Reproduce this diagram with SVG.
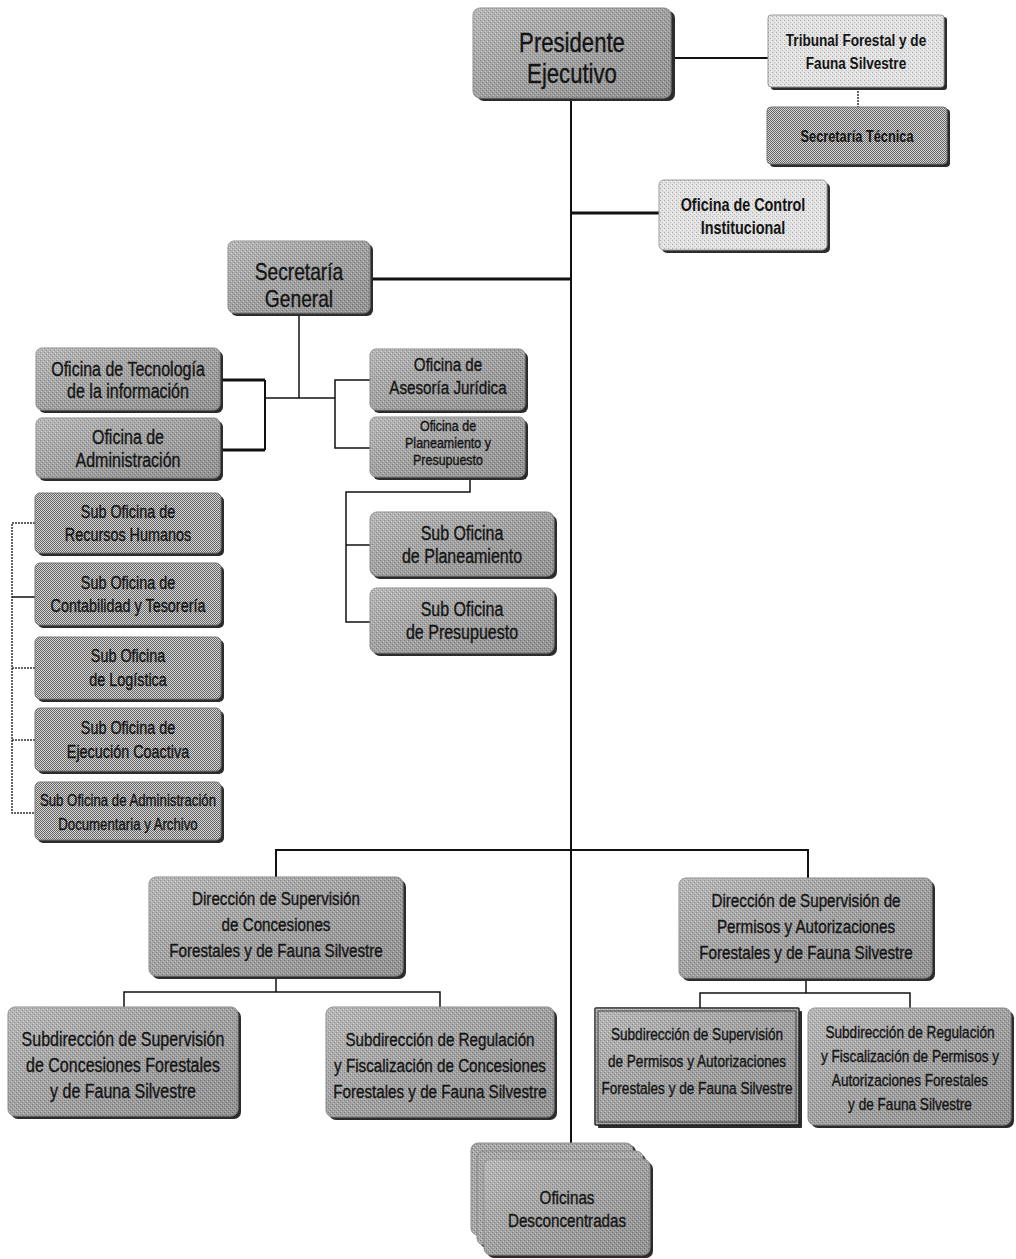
<svg xmlns="http://www.w3.org/2000/svg" width="1016" height="1259" viewBox="0 0 1016 1259">
<defs>
  <pattern id="pMid" width="4" height="4" patternUnits="userSpaceOnUse">
    <rect width="4" height="4" fill="#a8a8a8"/>
    <rect x="0" y="0" width="1" height="1" fill="#7a7a7a"/>
    <rect x="2" y="2" width="1" height="1" fill="#7a7a7a"/>
    <rect x="1" y="3" width="1" height="1" fill="#cacaca"/>
    <rect x="3" y="1" width="1" height="1" fill="#cacaca"/>
  </pattern>
  <pattern id="pLight" width="4" height="4" patternUnits="userSpaceOnUse">
    <rect width="4" height="4" fill="#e2e2e2"/>
    <rect x="0" y="0" width="1" height="1" fill="#a8a8a8"/>
    <rect x="2" y="2" width="1" height="1" fill="#b8b8b8"/>
    <rect x="3" y="1" width="1" height="1" fill="#f4f4f4"/>
  </pattern>
  <pattern id="pCheck" width="2" height="2" patternUnits="userSpaceOnUse">
    <rect width="2" height="2" fill="#d4d4d4"/>
    <rect x="0" y="0" width="1" height="1" fill="#666"/>
    <rect x="1" y="1" width="1" height="1" fill="#666"/>
  </pattern>
  <linearGradient id="gShade" x1="0" y1="0" x2="1" y2="1">
    <stop offset="0" stop-color="#fff" stop-opacity="0.18"/>
    <stop offset="1" stop-color="#000" stop-opacity="0.12"/>
  </linearGradient>
</defs>
<style>
  .sh { fill: #2c2c2c; }
  .bm { fill: url(#pMid); stroke: #8a8a8a; stroke-width: 1; }
  .bl { fill: url(#pLight); stroke: #9a9a9a; stroke-width: 1; }
  .bc { fill: url(#pCheck); stroke: #777; stroke-width: 1; }
  .ov { fill: url(#gShade); }
  .t { font-family: "Liberation Sans", Arial, sans-serif; fill: #141414; stroke: #141414; stroke-width: 0.35; text-anchor: middle; }
  .b { font-weight: bold; stroke-width: 0; }
  .ln { fill: none; stroke: #111; stroke-width: 1.5; }
  .lm { fill: none; stroke: #111; stroke-width: 2; }
  .lt { fill: none; stroke: #111; stroke-width: 3; }
  .ld { fill: none; stroke: #333; stroke-width: 1.5; stroke-dasharray: 2 1; }
</style>

<g id="connectors">
  <path class="lm" d="M673,58 H768"/>
  <path class="ld" d="M858,88 V107"/>
  <path class="lm" d="M571,98 V1160"/>
  <path class="lt" d="M571,213 H659"/>
  <path class="lt" d="M371,279 H571"/>
  <path class="ln" d="M299,313 V398"/>
  <path class="ln" d="M265,398 H335"/>
  <path class="lm" d="M265,380 V450"/>
  <path class="lt" d="M220,380 H265 M220,450 H265"/>
  <path class="ln" d="M370,380 H335 V448 H370"/>
  <path class="ln" d="M470,477 V492 H346 V622 H370 M346,545 H370"/>
  <path class="ld" d="M35,523 H12 V813 H35 M12,668 H35 M12,740 H35"/>
  <path class="ln" d="M12,597 H35"/>
  <path class="lm" d="M276,877 V850 H808 V878"/>
  <path class="ln" d="M276,976 V992 M124,1007 V992 H440 V1007"/>
  <path class="ln" d="M806,978 V993 M700,1008 V993 H910 V1008"/>
</g>

<g id="n-presidente">
  <rect class="sh" x="477" y="11" width="198" height="90" rx="7"/>
  <rect class="bm" x="473" y="8" width="198" height="90" rx="7"/>
  <rect class="ov" x="473" y="8" width="198" height="90" rx="7"/>
  <text class="t" font-size="27" transform="translate(572 52) scale(0.82 1)">Presidente</text>
  <text class="t" font-size="27" transform="translate(572 83) scale(0.82 1)">Ejecutivo</text>
</g>

<g id="n-tribunal">
  <rect class="sh" x="771" y="17" width="176" height="73" rx="3"/>
  <rect class="bl" x="768" y="15" width="176" height="72" rx="3"/>
  <text class="t b" font-size="17" transform="translate(856 46) scale(0.8 1)">Tribunal Forestal y de</text>
  <text class="t b" font-size="17" transform="translate(856 69) scale(0.8 1)">Fauna Silvestre</text>
</g>

<g id="n-sec-tecnica">
  <rect class="sh" x="770" y="109" width="180" height="58" rx="4"/>
  <rect class="bc" x="767" y="107" width="180" height="57" rx="4"/>
  <text class="t b" font-size="16" transform="translate(857 142) scale(0.8 1)">Secretaría Técnica</text>
</g>

<g id="n-control">
  <rect class="sh" x="662" y="183" width="168" height="70" rx="5"/>
  <rect class="bl" x="659" y="180" width="168" height="70" rx="5"/>
  <text class="t b" font-size="18" transform="translate(743 211) scale(0.8 1)">Oficina de Control</text>
  <text class="t b" font-size="18" transform="translate(743 234) scale(0.8 1)">Institucional</text>
</g>

<g id="n-sec-general">
  <rect class="sh" x="231" y="244" width="142" height="72" rx="6"/>
  <rect class="bm" x="228" y="241" width="142" height="72" rx="6"/>
  <rect class="ov" x="228" y="241" width="142" height="72" rx="6"/>
  <text class="t" font-size="24" transform="translate(299 280) scale(0.8 1)">Secretaría</text>
  <text class="t" font-size="24" transform="translate(299 307) scale(0.8 1)">General</text>
</g>

<g id="n-tecnologia">
  <rect class="sh" x="39" y="351" width="184" height="62" rx="6"/>
  <rect class="bm" x="36" y="348" width="184" height="62" rx="6"/>
  <rect class="ov" x="36" y="348" width="184" height="62" rx="6"/>
  <text class="t" font-size="20" transform="translate(128 376) scale(0.8 1)">Oficina de Tecnología</text>
  <text class="t" font-size="20" transform="translate(128 398) scale(0.8 1)">de la información</text>
</g>

<g id="n-administracion">
  <rect class="sh" x="39" y="421" width="184" height="60" rx="6"/>
  <rect class="bm" x="36" y="418" width="184" height="60" rx="6"/>
  <rect class="ov" x="36" y="418" width="184" height="60" rx="6"/>
  <text class="t" font-size="20" transform="translate(128 444) scale(0.8 1)">Oficina de</text>
  <text class="t" font-size="20" transform="translate(128 467) scale(0.8 1)">Administración</text>
</g>

<g id="n-asesoria">
  <rect class="sh" x="373" y="352" width="155" height="61" rx="6"/>
  <rect class="bm" x="370" y="349" width="155" height="61" rx="6"/>
  <rect class="ov" x="370" y="349" width="155" height="61" rx="6"/>
  <text class="t" font-size="19" transform="translate(448 371) scale(0.8 1)">Oficina de</text>
  <text class="t" font-size="19" transform="translate(448 394) scale(0.8 1)">Asesoría Jurídica</text>
</g>

<g id="n-planeamiento-presupuesto">
  <rect class="sh" x="373" y="420" width="155" height="60" rx="6"/>
  <rect class="bm" x="370" y="417" width="155" height="60" rx="6"/>
  <rect class="ov" x="370" y="417" width="155" height="60" rx="6"/>
  <text class="t" font-size="14.5" transform="translate(448 431) scale(0.86 1)">Oficina de</text>
  <text class="t" font-size="14.5" transform="translate(448 448) scale(0.86 1)">Planeamiento y</text>
  <text class="t" font-size="14.5" transform="translate(448 465) scale(0.86 1)">Presupuesto</text>
</g>

<g id="n-sub-planeamiento">
  <rect class="sh" x="373" y="515" width="184" height="64" rx="7"/>
  <rect class="bm" x="370" y="512" width="184" height="64" rx="7"/>
  <rect class="ov" x="370" y="512" width="184" height="64" rx="7"/>
  <text class="t" font-size="20" transform="translate(462 540) scale(0.8 1)">Sub Oficina</text>
  <text class="t" font-size="20" transform="translate(462 563) scale(0.8 1)">de Planeamiento</text>
</g>

<g id="n-sub-presupuesto">
  <rect class="sh" x="373" y="591" width="184" height="65" rx="7"/>
  <rect class="bm" x="370" y="588" width="184" height="65" rx="7"/>
  <rect class="ov" x="370" y="588" width="184" height="65" rx="7"/>
  <text class="t" font-size="20" transform="translate(462 616) scale(0.8 1)">Sub Oficina</text>
  <text class="t" font-size="20" transform="translate(462 639) scale(0.8 1)">de Presupuesto</text>
</g>

<g id="n-sub-rrhh">
  <rect class="sh" x="38" y="496" width="186" height="60" rx="5"/>
  <rect class="bc" x="35" y="493" width="186" height="60" rx="5"/>
  <text class="t" font-size="18" transform="translate(128 518) scale(0.8 1)">Sub Oficina de</text>
  <text class="t" font-size="18" transform="translate(128 541) scale(0.8 1)">Recursos Humanos</text>
</g>

<g id="n-sub-contabilidad">
  <rect class="sh" x="38" y="566" width="186" height="62" rx="5"/>
  <rect class="bc" x="35" y="563" width="186" height="62" rx="5"/>
  <text class="t" font-size="18" transform="translate(128 589) scale(0.8 1)">Sub Oficina de</text>
  <text class="t" font-size="18" transform="translate(128 612) scale(0.8 1)">Contabilidad y Tesorería</text>
</g>

<g id="n-sub-logistica">
  <rect class="sh" x="38" y="640" width="186" height="62" rx="5"/>
  <rect class="bc" x="35" y="637" width="186" height="62" rx="5"/>
  <text class="t" font-size="18" transform="translate(128 662) scale(0.8 1)">Sub Oficina</text>
  <text class="t" font-size="18" transform="translate(128 686) scale(0.8 1)">de Logística</text>
</g>

<g id="n-sub-ejecucion">
  <rect class="sh" x="38" y="711" width="186" height="63" rx="5"/>
  <rect class="bc" x="35" y="708" width="186" height="63" rx="5"/>
  <text class="t" font-size="18" transform="translate(128 734) scale(0.8 1)">Sub Oficina de</text>
  <text class="t" font-size="18" transform="translate(128 758) scale(0.8 1)">Ejecución Coactiva</text>
</g>

<g id="n-sub-documentaria">
  <rect class="sh" x="38" y="785" width="186" height="58" rx="5"/>
  <rect class="bc" x="35" y="782" width="186" height="58" rx="5"/>
  <text class="t" font-size="16.5" transform="translate(128 806) scale(0.8 1)">Sub Oficina de Administración</text>
  <text class="t" font-size="16.5" transform="translate(128 830) scale(0.8 1)">Documentaria y Archivo</text>
</g>

<g id="n-dir-concesiones">
  <rect class="sh" x="152" y="880" width="254" height="99" rx="7"/>
  <rect class="bm" x="149" y="877" width="254" height="99" rx="7"/>
  <rect class="ov" x="149" y="877" width="254" height="99" rx="7"/>
  <text class="t" font-size="19" transform="translate(276 905) scale(0.8 1)">Dirección de Supervisión</text>
  <text class="t" font-size="19" transform="translate(276 931) scale(0.8 1)">de Concesiones</text>
  <text class="t" font-size="19" transform="translate(276 957) scale(0.8 1)">Forestales y de Fauna Silvestre</text>
</g>

<g id="n-dir-permisos">
  <rect class="sh" x="682" y="881" width="253" height="100" rx="7"/>
  <rect class="bm" x="679" y="878" width="253" height="100" rx="7"/>
  <rect class="ov" x="679" y="878" width="253" height="100" rx="7"/>
  <text class="t" font-size="19" transform="translate(806 907) scale(0.8 1)">Dirección de Supervisión de</text>
  <text class="t" font-size="19" transform="translate(806 933) scale(0.8 1)">Permisos y Autorizaciones</text>
  <text class="t" font-size="19" transform="translate(806 959) scale(0.8 1)">Forestales y de Fauna Silvestre</text>
</g>

<g id="n-subdir-sup-concesiones">
  <rect class="sh" x="11" y="1010" width="230" height="109" rx="7"/>
  <rect class="bm" x="8" y="1007" width="230" height="109" rx="7"/>
  <rect class="ov" x="8" y="1007" width="230" height="109" rx="7"/>
  <text class="t" font-size="20" transform="translate(123 1046) scale(0.8 1)">Subdirección de Supervisión</text>
  <text class="t" font-size="20" transform="translate(123 1072) scale(0.8 1)">de Concesiones Forestales</text>
  <text class="t" font-size="20" transform="translate(123 1098) scale(0.8 1)">y de Fauna Silvestre</text>
</g>

<g id="n-subdir-reg-concesiones">
  <rect class="sh" x="329" y="1010" width="228" height="110" rx="7"/>
  <rect class="bm" x="326" y="1007" width="228" height="110" rx="7"/>
  <rect class="ov" x="326" y="1007" width="228" height="110" rx="7"/>
  <text class="t" font-size="19" transform="translate(440 1046) scale(0.8 1)">Subdirección de Regulación</text>
  <text class="t" font-size="19" transform="translate(440 1072) scale(0.8 1)">y Fiscalización de Concesiones</text>
  <text class="t" font-size="19" transform="translate(440 1098) scale(0.8 1)">Forestales y de Fauna Silvestre</text>
</g>

<g id="n-subdir-sup-permisos">
  <rect class="sh" x="598" y="1011" width="204" height="117" rx="1"/>
  <rect class="bm" x="595" y="1008" width="204" height="117" rx="1" style="stroke:#222;stroke-width:1.5"/>
  <rect class="ov" x="595" y="1008" width="204" height="117" rx="1"/>
  <rect x="598" y="1011" width="198" height="111" fill="none" stroke="#444" stroke-width="1"/>
  <text class="t" font-size="17" transform="translate(697 1040) scale(0.8 1)">Subdirección de Supervisión</text>
  <text class="t" font-size="17" transform="translate(697 1067) scale(0.8 1)">de Permisos y Autorizaciones</text>
  <text class="t" font-size="17" transform="translate(697 1094) scale(0.8 1)">Forestales y de Fauna Silvestre</text>
</g>

<g id="n-subdir-reg-permisos">
  <rect class="sh" x="811" y="1011" width="203" height="117" rx="7"/>
  <rect class="bm" x="808" y="1008" width="203" height="117" rx="7"/>
  <rect class="ov" x="808" y="1008" width="203" height="117" rx="7"/>
  <text class="t" font-size="17" transform="translate(910 1038) scale(0.8 1)">Subdirección de Regulación</text>
  <text class="t" font-size="17" transform="translate(910 1062) scale(0.8 1)">y Fiscalización de Permisos y</text>
  <text class="t" font-size="17" transform="translate(910 1086) scale(0.8 1)">Autorizaciones Forestales</text>
  <text class="t" font-size="17" transform="translate(910 1110) scale(0.8 1)">y de Fauna Silvestre</text>
</g>

<g id="n-oficinas-desconcentradas">
  <rect class="sh" x="474" y="1145" width="162" height="92" rx="7"/>
  <rect class="bm" x="471" y="1143" width="162" height="92" rx="7"/>
  <rect class="sh" x="480" y="1154" width="166" height="94" rx="7"/>
  <rect class="bm" x="477" y="1151" width="166" height="94" rx="7"/>
  <rect class="sh" x="487" y="1162" width="166" height="96" rx="7"/>
  <rect class="bm" x="484" y="1159" width="166" height="96" rx="7"/>
  <rect class="ov" x="484" y="1159" width="166" height="96" rx="7"/>
  <text class="t" font-size="19" transform="translate(567 1204) scale(0.8 1)">Oficinas</text>
  <text class="t" font-size="19" transform="translate(567 1227) scale(0.8 1)">Desconcentradas</text>
</g>
</svg>
